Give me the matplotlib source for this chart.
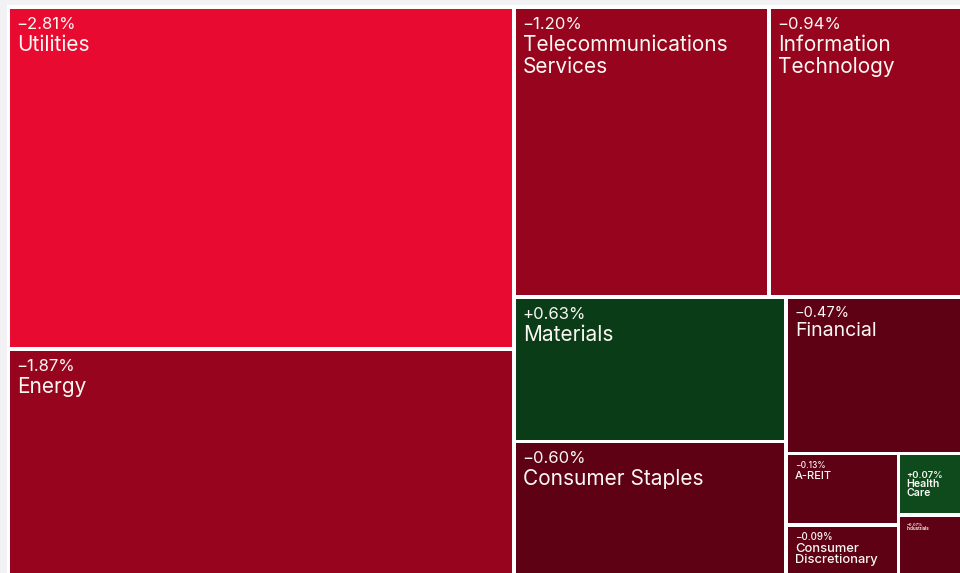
import numpy as np
import matplotlib.pyplot as plt
from matplotlib.patches import Rectangle

plt.rcParams['font.family'] = ['Inter', 'DejaVu Sans']

# sector data (weight = share of index, change = daily move in %)
sectors = ['Utilities', 'Energy', 'Telecommunications\nServices', 'Information\nTechnology',
           'Materials', 'Consumer Staples', 'Financial', 'A-REIT',
           'Consumer\nDiscretionary', 'Health\nCare', 'Industrials']
changes = [-2.81, -1.87, -1.20, -0.94, 0.63, -0.60, -0.47, -0.13, -0.09, 0.07, -0.07]
weights = [32.10, 21.05, 13.72, 10.28, 7.31, 6.63, 5.06, 1.49, 1.00, 0.70, 0.66]

# label style per tile: pct size, name size, first baseline, line step, x pad, weight
label_style = [(12, 15, 20, 22, 7, 'normal')] * 6 + [
    (10.5, 14, 18.7, 19, 7, 'normal'),
    (6, 8, 12.3, 11.3, 7, 'medium'),
    (7, 9.3, 13, 11.7, 7, 'medium'),
    (6.8, 7.6, 22.6, 9, 6, 'semibold'),
    (3, 3.3, 9, 4.5, 6, 'semibold')]


def tile_color(v):
    if v <= -2:
        return '#E90A31'
    if v <= -0.9:
        return '#96041E'
    if v < 0:
        return '#5E0115'
    if v < 0.5:
        return '#0F4A1D'
    return '#0A3C18'


def worst(row, fixed, ratio):
    s = sum(row)
    f = fixed * fixed * ratio
    return max(f * max(row) / (s * s), s * s / (f * min(row)))


def place_row(row, x, y, w, h, rects):
    s = sum(row)
    if w <= h:
        rh = s / w
        cx = x
        for a in row:
            rects.append((cx, y, a / rh, rh))
            cx += a / rh
        return x, y + rh, w, h - rh
    rw = s / h
    cy = y
    for a in row:
        rects.append((x, cy, rw, a / rw))
        cy += a / rw
    return x + rw, y, w - rw, h


def squarify(areas, x, y, w, h, ratio=(1 + 5 ** 0.5) / 2):
    rects, row, i = [], [], 0
    while i < len(areas):
        fixed = min(w, h)
        a = areas[i]
        if not row or worst(row + [a], fixed, ratio) <= worst(row, fixed, ratio):
            row.append(a)
            i += 1
        else:
            x, y, w, h = place_row(row, x, y, w, h, rects)
            row = []
    if row:
        place_row(row, x, y, w, h, rects)
    return rects


fig = plt.figure(figsize=(9.6, 5.73), dpi=100, facecolor='#F2F2F4')
ax = fig.add_axes([0, 0, 1, 1])
ax.set_xlim(0, 960)
ax.set_ylim(573, 0)
ax.axis('off')

# treemap runs past the right and bottom edge of the picture
X0, Y0, W, H = 8, 7, 952, 566
ax.add_patch(Rectangle((6.5, 5), 970, 580, facecolor='white', edgecolor='none'))

order = np.argsort(weights)[::-1]
w_arr = np.array(weights, dtype=float)
areas = list(w_arr[order] / w_arr.sum() * W * H)
rects = squarify(areas, X0, Y0, W, H)

g = 1.75
for k, (x, y, w, h) in zip(order, rects):
    rw = w - 2 * g + (5 if x + w > X0 + W - 0.5 else 0)
    rh = h - 2 * g + (5 if y + h > Y0 + H - 0.5 else 0)
    ax.add_patch(Rectangle((x + g, y + g), rw, rh,
                           facecolor=tile_color(changes[k]), edgecolor='none'))
    ps, ns, first, step, pad, fw = label_style[k]
    tx, ty = x + g + pad, y + g
    ax.text(tx, ty + first, f'{changes[k]:+.2f}%'.replace('-', '\u2212'),
            fontsize=ps, color='#FBF7F2', va='baseline', ha='left', fontweight=fw)
    for j, line in enumerate(sectors[k].split('\n')):
        ax.text(tx, ty + first + step * (j + 1), line, fontsize=ns,
                color='#FBF7F2', va='baseline', ha='left', fontweight=fw)

plt.savefig('out.png', dpi=100, facecolor=fig.get_facecolor())
